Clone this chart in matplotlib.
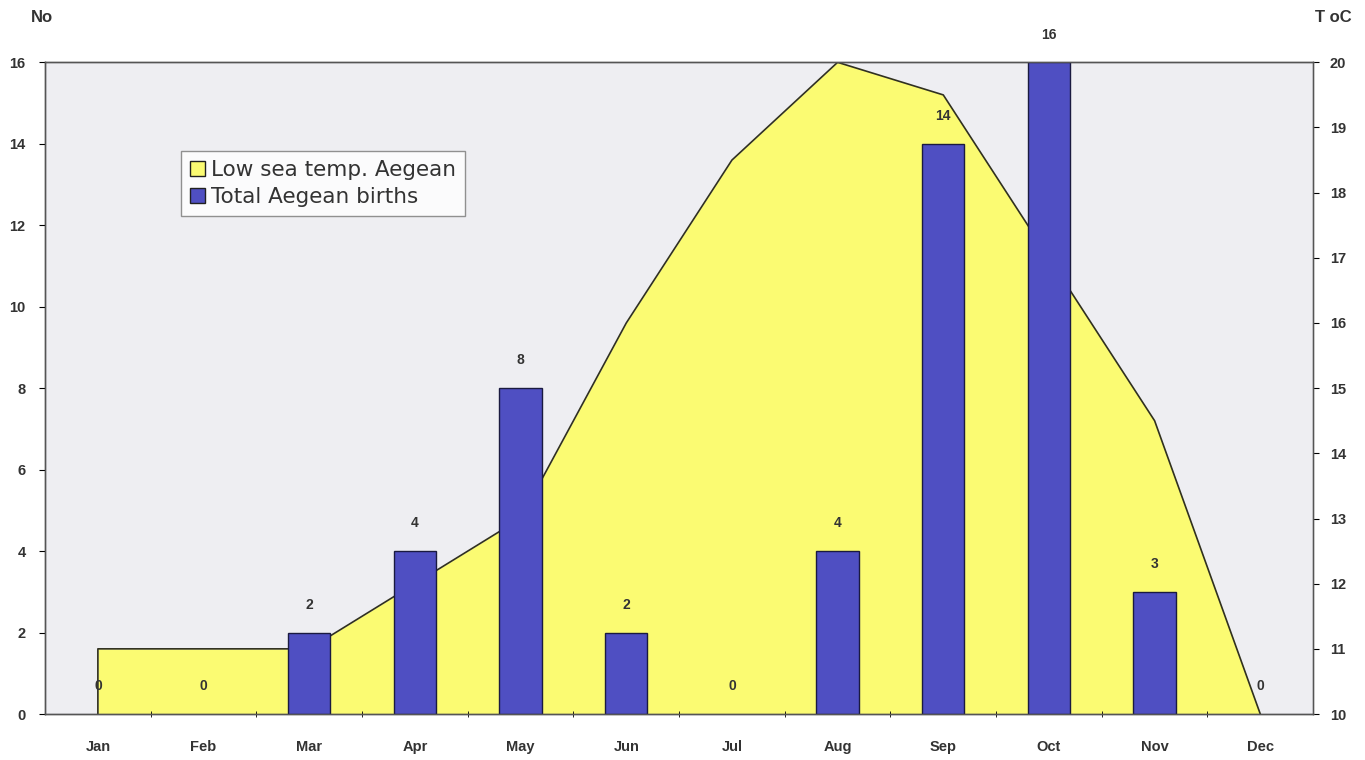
import matplotlib
matplotlib.use('Agg')
import matplotlib.pyplot as plt
from matplotlib.patches import Patch
import numpy as np

months = ['Jan', 'Feb', 'Mar', 'Apr', 'May', 'Jun', 'Jul', 'Aug', 'Sep', 'Oct', 'Nov', 'Dec']
births = [0, 0, 2, 4, 8, 2, 0, 4, 14, 16, 3, 0]
sea_temp = [11.0, 11.0, 11.0, 12.0, 13.0, 16.0, 18.5, 20.0, 19.5, 17.0, 14.5, 10.0]

bar_col = '#4f4fc2'
area_col = '#fbfb72'
bg_col = '#eeeef2'

plt.rcParams['font.family'] = ['Liberation Sans', 'DejaVu Sans']

fig = plt.figure(figsize=(13.65, 7.6), dpi=100)
ax = fig.add_axes([0.033, 0.0605, 0.929, 0.8575])
ax2 = ax.twinx()
# bars on top of the area, grey background on the back axes
ax.set_zorder(ax2.get_zorder() + 1)
ax.patch.set_visible(False)
ax2.patch.set_visible(True)
ax2.set_facecolor(bg_col)

x = np.arange(len(months))

# temperature area (right axis)
ax2.fill_between(x, sea_temp, 10, color=area_col, linewidth=0)
ax2.plot([x[0]] + list(x), [10] + sea_temp, color='#303020', linewidth=1.2)
ax2.set_ylim(10, 20)
ax2.set_yticks(range(10, 21))

# births bars (left axis); no outline for empty months
edges = ['#1a1a40' if v > 0 else 'none' for v in births]
ax.bar(x, births, width=0.4, color=bar_col, edgecolor=edges, linewidth=1.0)
for i, v in enumerate(births):
    ax.annotate(str(v), (x[i], v), xytext=(0, 20), textcoords='offset points',
                ha='center', va='center', fontsize=10, fontweight='bold', color='#333333')

ax.set_xlim(-0.5, len(months) - 0.5)
ax.set_ylim(0, 16)
ax.set_yticks(range(0, 17, 2))
ax.set_xticks(x)
ax.set_xticklabels(months)
ax.set_xticks(np.arange(0.5, len(months) - 1, 1), minor=True)
ax.tick_params(axis='x', which='major', length=0, pad=19)
ax.tick_params(axis='x', which='minor', length=5, direction='inout')

for a in (ax, ax2):
    for lab in a.get_xticklabels() + a.get_yticklabels():
        lab.set_fontweight('bold')
        lab.set_fontsize(10.5)
        lab.set_color('#333333')
ax.tick_params(axis='y', length=4, pad=10)
ax2.tick_params(axis='y', length=4, pad=8)

for a in (ax, ax2):
    for s in a.spines.values():
        s.set_color('#555555')
        s.set_linewidth(1.0)
ax2.spines['right'].set_color('#888888')
ax2.spines['right'].set_linestyle((0, (3, 1)))

fig.text(42 / 1365, 1 - 18 / 760, 'No', fontsize=12, fontweight='bold', ha='center', va='center', color='#333333')
fig.text(1333 / 1365, 1 - 18 / 760, 'T oC', fontsize=12, fontweight='bold', ha='center', va='center', color='#333333')

handles = [Patch(facecolor=area_col, edgecolor='#202020', label='Low sea temp. Aegean'),
           Patch(facecolor=bar_col, edgecolor='#202020', label='Total Aegean births')]
leg = ax.legend(handles=handles, loc='upper left', bbox_to_anchor=(0.099, 0.88),
                frameon=True, fancybox=False, handlelength=0.7, handleheight=0.7,
                handletextpad=0.3, borderpad=0.4, labelspacing=0.35,
                prop={'family': 'DejaVu Sans', 'size': 15.5})
leg.get_frame().set_edgecolor('#777777')
leg.get_frame().set_linewidth(1.0)
for t in leg.get_texts():
    t.set_color('#333333')

plt.savefig('out.png', dpi=100)
